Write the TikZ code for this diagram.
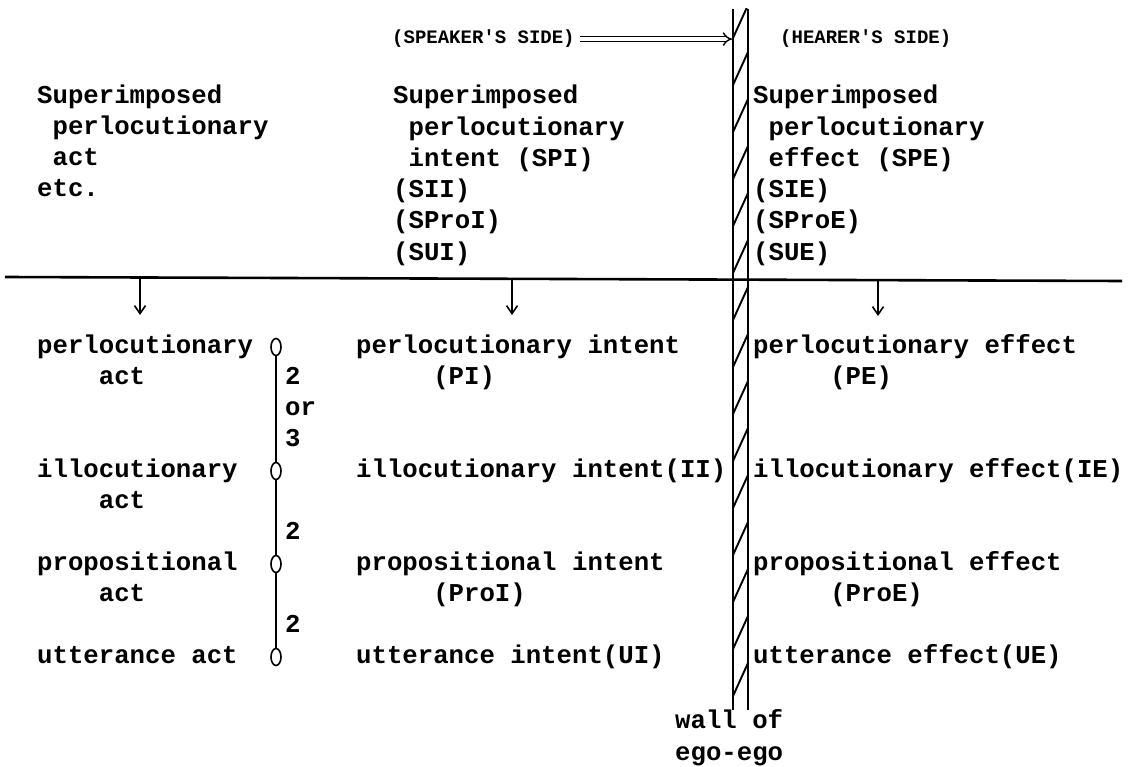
\documentclass[tikz,border=0pt]{standalone}
\usepackage{fontspec}
\setmonofont{Liberation Mono}
\usetikzlibrary{arrows.meta,shapes.geometric}
\tikzset{
  tw/.style={font=\ttfamily\bfseries\fontsize{25.7}{31.2}\selectfont, anchor=base west, inner sep=0pt, align=left},
  toplabel/.style={font=\ttfamily\bfseries\fontsize{19}{21}\selectfont, anchor=base west, inner sep=0pt},
  zero/.style={ellipse, draw, line width=1.6pt, minimum width=10pt, minimum height=17pt, inner sep=0pt},
  wallline/.style={line width=1.9pt},
  hatchline/.style={line width=1.9pt},
  rule/.style={line width=2.6pt},
  downarrow/.style={line width=1.6pt, -{Straight Barb[length=8pt,width=11pt,line width=1.6pt]}},
  chain/.style={line width=1.6pt},
  dblarrow/.style={double, double distance=3.2pt, line width=1.4pt, -{Implies[length=7pt]}},
}
\begin{document}
\begin{tikzpicture}[x=1pt,y=1pt]
\fill[white] (0,0) rectangle (1131,-767);
\useasboundingbox (0,0) rectangle (1131,-767);

% wall of ego-ego
\coordinate (wlt) at (733,-9);
\coordinate (wlb) at (733,-710);
\coordinate (wrt) at (748,-9);
\coordinate (wrb) at (748,-710);
\draw[wallline] (wlt) -- (wlb);
\draw[wallline] (wrt) -- (wrb);
\begin{scope}
  \clip (733,-9) rectangle (748,-710);
  \foreach \k in {0,...,14}
    \draw[hatchline] (733,{-38-47*\k}) -- (748,{-5-47*\k});
\end{scope}
\node[tw] (wall) at (675,-760) {wall of\\ego-ego};

% top labels
\node[toplabel] (spk) at (392,-44) {(SPEAKER'S SIDE)};
\node[toplabel] (hrr) at (780,-44) {(HEARER'S SIDE)};
\draw[dblarrow] ([xshift=5pt]spk.east) -- ([xshift=-1pt]spk.east -| wlt);

% upper texts
\node[tw] (supL) at (37,-197) {Superimposed\\~perlocutionary\\~act\\etc.};
\node[tw] (supM) at (393,-260) {Superimposed\\~perlocutionary\\~intent (SPI)\\(SII)\\(SProI)\\(SUI)};
\node[tw] (supR) at (753,-260) {Superimposed\\~perlocutionary\\~effect (SPE)\\(SIE)\\(SProE)\\(SUE)};

% horizontal rule
\coordinate (hl) at (5,-277);
\coordinate (hr) at (1122,-281);
\draw[rule] (hl) -- (hr);

% down arrows
\coordinate (d1s) at (140,-279);
\coordinate (d1e) at (140,-315);
\coordinate (d2s) at (512,-279);
\coordinate (d2e) at (512,-315);
\coordinate (d3s) at (878,-280);
\coordinate (d3e) at (878,-316);
\draw[downarrow] (d1s) -- (d1e);
\draw[downarrow] (d2s) -- (d2e);
\draw[downarrow] (d3s) -- (d3e);

% lower left: acts
\node[tw] (pa) at (37,-384.2) {perlocutionary\\~~~~act};
\node[tw] (ia) at (37,-508.2) {illocutionary\\~~~~act};
\node[tw] (pra) at (37,-601.2) {propositional\\~~~~act};
\node[tw] (ua) at (37,-663) {utterance act};

% chain of zeros
\node[zero] (c1) at (276,-347) {};
\node[zero] (c2) at (276,-471) {};
\node[zero] (c3) at (276,-564) {};
\node[zero] (c4) at (276,-657) {};
\draw[chain] (c1) -- (c2);
\draw[chain] (c2) -- (c3);
\draw[chain] (c3) -- (c4);
\node[tw] (n1) at (285,-446.4) {2\\or\\3};
\node[tw] (n2) at (285,-539) {2};
\node[tw] (n3) at (285,-632) {2};

% lower middle: intents
\node[tw] (pi) at (356,-384.2) {perlocutionary intent\\~~~~~(PI)};
\node[tw] (ii) at (356,-477) {illocutionary intent(II)};
\node[tw] (pri) at (356,-601.2) {propositional intent\\~~~~~(ProI)};
\node[tw] (ui) at (356,-663) {utterance intent(UI)};

% lower right: effects
\node[tw] (pe) at (753,-384.2) {perlocutionary effect\\~~~~~(PE)};
\node[tw] (ie) at (753,-477) {illocutionary effect(IE)};
\node[tw] (pre) at (753,-601.2) {propositional effect\\~~~~~(ProE)};
\node[tw] (ue) at (753,-663) {utterance effect(UE)};
\end{tikzpicture}
\end{document}
